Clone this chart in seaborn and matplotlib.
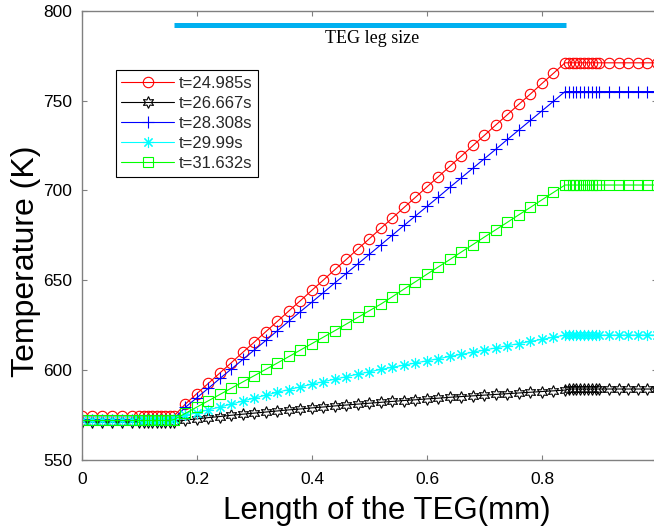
import matplotlib
matplotlib.use("Agg")
import matplotlib.pyplot as plt
import seaborn as sns

# Position along the TEG (mm)
x_mm = [0.0, 0.0175, 0.035, 0.0525, 0.07, 0.0875,
        0.1, 0.1075, 0.115, 0.1225, 0.13, 0.1375, 0.145, 0.1525, 0.16,
        0.18, 0.20, 0.22, 0.24, 0.26, 0.28, 0.30, 0.32, 0.34, 0.36,
        0.38, 0.40, 0.42, 0.44, 0.46, 0.48, 0.50, 0.52, 0.54, 0.56,
        0.58, 0.60, 0.62, 0.64, 0.66, 0.68, 0.70, 0.72, 0.74, 0.76,
        0.78, 0.80, 0.82, 0.84,
        0.8467, 0.8533, 0.86, 0.8667, 0.8733, 0.88, 0.8867, 0.8933, 0.9,
        0.9167, 0.9333, 0.95, 0.9667, 0.9833, 1.0]

# Temperature profiles (K) at each time
temp_t24985 = [574.5, 574.5, 574.5, 574.5, 574.5, 574.5,
               574.5, 574.5, 574.5, 574.5, 574.5, 574.5, 574.5, 574.5, 574.5,
               581.2, 587.0, 592.7, 598.5, 604.2, 610.0, 615.7, 621.5, 627.2, 633.0,
               638.7, 644.5, 650.2, 656.0, 661.7, 667.5, 673.2, 679.0, 684.7, 690.5,
               696.2, 702.0, 707.7, 713.5, 719.2, 725.0, 730.7, 736.5, 742.2, 748.0,
               753.7, 759.5, 765.2, 771.0,
               771.0, 771.0, 771.0, 771.0, 771.0, 771.0, 771.0, 771.0, 771.0,
               771.0, 771.0, 771.0, 771.0, 771.0, 771.0]

temp_t26667 = [571.0, 571.0, 571.0, 571.0, 571.0, 571.0,
               571.0, 571.0, 571.0, 571.0, 571.0, 571.0, 571.0, 571.0, 571.3,
               572.2, 572.9, 573.6, 574.2, 574.9, 575.5, 576.1, 576.7, 577.3, 577.9,
               578.4, 579.0, 579.5, 580.1, 580.6, 581.1, 581.6, 582.1, 582.6, 583.1,
               583.5, 584.0, 584.4, 584.9, 585.3, 585.7, 586.1, 586.5, 586.9, 587.3,
               587.7, 588.1, 588.5, 588.9,
               589.5, 589.5, 589.5, 589.5, 589.5, 589.5, 589.5, 589.5, 589.5,
               589.5, 589.5, 589.5, 589.5, 589.5, 589.5]

temp_t28308 = [572.5, 572.5, 572.5, 572.5, 572.5, 572.5,
               572.5, 572.5, 572.5, 572.5, 572.5, 572.5, 572.5, 572.5, 573.0,
               579.4, 584.7, 590.0, 595.4, 600.7, 606.0, 611.3, 616.6, 622.0, 627.3,
               632.6, 637.9, 643.2, 648.6, 653.9, 659.2, 664.5, 669.8, 675.2, 680.5,
               685.8, 691.1, 696.4, 701.8, 707.1, 712.4, 717.7, 723.0, 728.4, 733.7,
               739.0, 744.3, 749.6, 755.0,
               755.0, 755.0, 755.0, 755.0, 755.0, 755.0, 755.0, 755.0, 755.0,
               755.0, 755.0, 755.0, 755.0, 755.0, 755.0]

temp_t29990 = [572.0, 572.0, 572.0, 572.0, 572.0, 572.0,
               572.0, 572.0, 572.0, 572.0, 572.0, 572.0, 572.0, 572.0, 573.0,
               574.8, 576.4, 577.9, 579.5, 581.1, 582.8, 584.5, 586.1, 587.7, 589.2,
               590.7, 592.2, 593.6, 595.0, 596.4, 597.8, 599.1, 600.4, 601.6, 602.8,
               604.0, 605.2, 606.4, 607.6, 608.8, 610.0, 611.2, 612.4, 613.6, 614.8,
               616.0, 617.1, 618.3, 619.5,
               619.5, 619.5, 619.5, 619.5, 619.5, 619.5, 619.5, 619.5, 619.5,
               619.5, 619.5, 619.5, 619.5, 619.5, 619.5]

temp_t31632 = [572.0, 572.0, 572.0, 572.0, 572.0, 572.0,
               572.0, 572.0, 572.0, 572.0, 572.0, 572.0, 572.0, 572.0, 572.5,
               576.0, 579.5, 583.0, 586.5, 590.0, 593.5, 597.0, 600.5, 604.0, 607.6,
               611.2, 614.8, 618.4, 622.0, 625.7, 629.4, 633.1, 636.8, 640.9, 645.1,
               649.2, 653.4, 657.5, 661.6, 665.8, 669.9, 674.1, 678.2, 682.3, 686.5,
               690.6, 694.8, 698.9, 703.0,
               703.0, 703.0, 703.0, 703.0, 703.0, 703.0, 703.0, 703.0, 703.0,
               703.0, 703.0, 703.0, 703.0, 703.0, 703.0]

series_labels = ["t=24.985s", "t=26.667s", "t=28.308s", "t=29.99s", "t=31.632s"]

# Extent of the thermoelectric leg
leg_x = [0.16, 0.842]
leg_y = [792.0, 792.0]

x_ticks = [0.0, 0.2, 0.4, 0.6, 0.8]
x_tick_labels = ["0", "0.2", "0.4", "0.6", "0.8"]
y_ticks = [550, 600, 650, 700, 750, 800]

sns.set_theme(style="white")
plt.rcParams["font.family"] = ["Liberation Sans", "DejaVu Sans"]

fig = plt.figure(figsize=(6.54, 5.32), dpi=100)
ax = fig.add_axes([82 / 654, 72 / 532, 575 / 654, 449.3 / 532])

styles = [
    dict(color="#ff0000", marker="o", markersize=7.5),
    dict(color="#000000", marker=(6, 1, 0), markersize=8.5),
    dict(color="#0000ff", marker="+", markersize=8),
    dict(color="#00ffff", marker=(8, 2, 0), markersize=8),
    dict(color="#00ff00", marker="s", markersize=6.5),
]
profiles = [temp_t24985, temp_t26667, temp_t28308, temp_t29990, temp_t31632]

for y, lab, st in zip(profiles, series_labels, styles):
    sns.lineplot(x=x_mm, y=y, ax=ax, color=st["color"], marker=st["marker"],
                 markersize=st["markersize"], markerfacecolor="none",
                 markeredgecolor=st["color"], markeredgewidth=0.8,
                 linewidth=0.8, label=lab, sort=False, estimator=None)

sns.lineplot(x=leg_x, y=leg_y, ax=ax, color="#00b0f0", linewidth=3.6,
             solid_capstyle="butt", estimator=None, legend=False)
ax.text(0.504, 784.6, "TEG leg size", ha="center", va="center",
        fontsize=13, family=["Liberation Serif", "DejaVu Serif"], color="black")

ax.set_xlim(0, 1)
ax.set_ylim(550, 800)
ax.set_xticks(x_ticks)
ax.set_xticklabels(x_tick_labels)
ax.set_yticks(y_ticks)

for side in ["left", "right", "top", "bottom"]:
    ax.spines[side].set_visible(True)
    ax.spines[side].set_color("#808080")
    ax.spines[side].set_linewidth(1.0)
ax.tick_params(axis="both", which="major", direction="in", length=3.6,
               width=0.8, color="#808080", labelcolor="black", labelsize=12.5,
               top=True, right=True, bottom=True, left=True)
ax.tick_params(axis="x", pad=9)
ax.tick_params(axis="y", pad=7)

ax.set_xlabel("Length of the TEG(mm)", fontsize=22.5, color="black")
ax.set_ylabel("Temperature (K)", fontsize=23, color="black")
ax.xaxis.set_label_coords(0.530, -0.1135)
ax.xaxis.label.set_va("center")
ax.yaxis.set_label_coords(-0.0975, 0.443)
ax.yaxis.label.set_va("center")

leg = ax.legend(loc="upper left", bbox_to_anchor=(0.059, 0.868),
                borderaxespad=0, fontsize=12, handlelength=3.15,
                handletextpad=0.3, labelspacing=0.31, borderpad=0.33,
                fancybox=False, framealpha=1, edgecolor="black", numpoints=1)
leg.get_frame().set_linewidth(0.8)

fig.savefig("out.png", dpi=100, facecolor="white")
